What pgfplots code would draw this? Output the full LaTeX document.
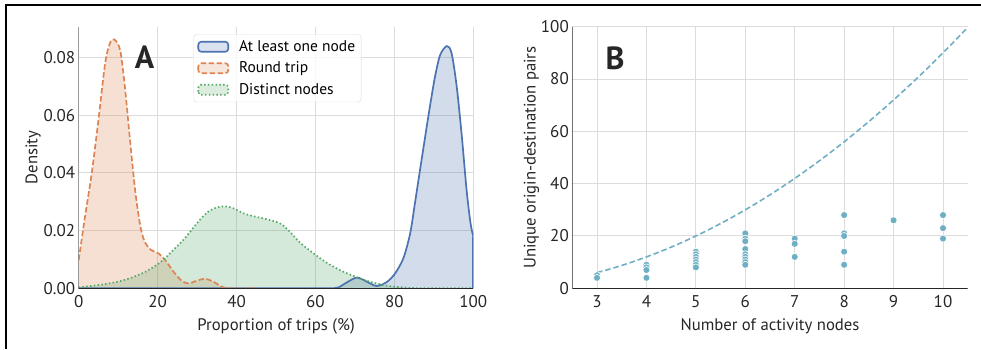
\documentclass[border=0pt]{standalone}
\usepackage{pgfplots}
\pgfplotsset{compat=1.18}
\usepackage{fontspec}
\setmainfont{PT Sans}
\definecolor{cblue}{HTML}{4C72B0}
\definecolor{corange}{HTML}{DD8452}
\definecolor{cgreen}{HTML}{55A868}
\definecolor{cteal}{HTML}{6FAFC4}
\definecolor{gridc}{HTML}{DCDCDC}
\definecolor{spinec}{HTML}{262626}
\pgfplotsset{
  common/.style={
    scale only axis, height=261.6pt,
    grid=major, grid style={gridc, line width=1pt},
    axis line style={draw=none},
    tick style={draw=none},
    ticklabel style={font=\fontsize{17}{20}\selectfont, text=spinec},
    xticklabel style={yshift=-4pt},
    label style={font=\fontsize{16.7}{20}\selectfont, text=spinec},
    xlabel style={yshift=-4pt},
    /pgf/number format/assume math mode=true,
  },
  patchlegend/.style={legend image code/.code={\draw[##1] (0pt,-5pt) rectangle (30pt,5pt);}},
}
\begin{document}
\begin{tikzpicture}[x=1pt,y=1pt]
\useasboundingbox (0,0) rectangle (981,349);
\draw[line width=2.3pt] (6.2,0) -- (6.2,344) -- (981,344);
\begin{axis}[common, at={(78.7pt,60.7pt)}, anchor=south west, width=394.6pt,
  xmin=0, xmax=100, ymin=0, ymax=0.0906,
  xtick={0,20,40,60,80,100}, ytick={0,0.02,0.04,0.06,0.08},
  scaled y ticks=false,
  yticklabel style={/pgf/number format/.cd, fixed, fixed zerofill, precision=2},
  xlabel={Proportion of trips (\%)}, ylabel={Density},
  ylabel style={yshift=-4pt},
  legend style={at={(0.2904,0.971)}, anchor=north west, draw=gridc, rounded corners=3pt,
    fill=white, fill opacity=0.8, text opacity=1, font=\fontsize{15.5}{18}\selectfont,
    inner xsep=4pt, inner ysep=4pt, row sep=5pt,
    /tikz/every odd column/.append style={column sep=8pt},
    legend cell align=left},
]
% fills
\addplot[draw=none, fill=cblue, fill opacity=0.25, smooth, forget plot] coordinates {
(0,0) (60,0) (63.7,0) (65.8,0.0003) (67.9,0.002) (70.5,0.0037) (73,0.0023) (75.5,0.0008) (78.1,0.0022) (80.2,0.0052) (82.3,0.0105) (84,0.019) (85.2,0.0294) (86.5,0.041) (87.8,0.0525) (89,0.0629) (90.3,0.0733) (91.6,0.0808) (93.3,0.0839) (94.5,0.0814) (95.8,0.0698) (97.1,0.0525) (98.3,0.034) (99.3,0.0225) (100,0.0179)} \closedcycle;
\addplot[draw=none, fill=corange, fill opacity=0.25, smooth, forget plot] coordinates {
(0,0.0098) (1.6,0.0248) (3.3,0.0398) (5,0.0583) (6.7,0.0779) (7.9,0.0848) (9,0.0862) (10.5,0.0825) (11.7,0.0698) (13,0.0514) (14.3,0.034) (15.5,0.0225) (16.6,0.0165) (18.3,0.0133) (20.2,0.0121) (21.9,0.0098) (24,0.0058) (26.1,0.0026) (27.8,0.0017) (29.9,0.0026) (32,0.0033) (34.1,0.0023) (36.2,0.0006) (38.3,0) (45,0)} \closedcycle;
\addplot[draw=none, fill=cgreen, fill opacity=0.25, smooth, forget plot] coordinates {
(0,0.0003) (5.4,0.0012) (9.6,0.0022) (13,0.0035) (16.4,0.0054) (18.9,0.0073) (21.4,0.0098) (24,0.0133) (26.5,0.0167) (28.6,0.0202) (30.7,0.0237) (32.8,0.0265) (35,0.028) (37.1,0.0284) (39.2,0.0277) (41.7,0.026) (44.2,0.025) (46.8,0.0242) (49.3,0.0233) (51.4,0.0222) (53.5,0.0196) (56.1,0.0158) (59.5,0.0121) (62.8,0.0089) (66.2,0.0063) (69.6,0.0043) (73,0.0026) (76.4,0.0014) (79.7,0.0006) (84.7,0.0001) (90,0) (100,0)} \closedcycle;
% lines
\addplot[cblue, line width=1.7pt, smooth, forget plot] coordinates {
(0,0) (60,0) (63.7,0) (65.8,0.0003) (67.9,0.002) (70.5,0.0037) (73,0.0023) (75.5,0.0008) (78.1,0.0022) (80.2,0.0052) (82.3,0.0105) (84,0.019) (85.2,0.0294) (86.5,0.041) (87.8,0.0525) (89,0.0629) (90.3,0.0733) (91.6,0.0808) (93.3,0.0839) (94.5,0.0814) (95.8,0.0698) (97.1,0.0525) (98.3,0.034) (99.3,0.0225) (100,0.0179)};
\addplot[cblue, line width=1.7pt, forget plot] coordinates {(100,0.0179) (100,0)};
\addplot[corange, line width=1.7pt, dash pattern=on 5.5pt off 2.5pt, smooth, forget plot] coordinates {
(0,0.0098) (1.6,0.0248) (3.3,0.0398) (5,0.0583) (6.7,0.0779) (7.9,0.0848) (9,0.0862) (10.5,0.0825) (11.7,0.0698) (13,0.0514) (14.3,0.034) (15.5,0.0225) (16.6,0.0165) (18.3,0.0133) (20.2,0.0121) (21.9,0.0098) (24,0.0058) (26.1,0.0026) (27.8,0.0017) (29.9,0.0026) (32,0.0033) (34.1,0.0023) (36.2,0.0006) (38.3,0) (45,0)};
\addplot[cgreen, line width=1.7pt, dash pattern=on 1.5pt off 2.3pt, smooth, forget plot] coordinates {
(0,0.0003) (5.4,0.0012) (9.6,0.0022) (13,0.0035) (16.4,0.0054) (18.9,0.0073) (21.4,0.0098) (24,0.0133) (26.5,0.0167) (28.6,0.0202) (30.7,0.0237) (32.8,0.0265) (35,0.028) (37.1,0.0284) (39.2,0.0277) (41.7,0.026) (44.2,0.025) (46.8,0.0242) (49.3,0.0233) (51.4,0.0222) (53.5,0.0196) (56.1,0.0158) (59.5,0.0121) (62.8,0.0089) (66.2,0.0063) (69.6,0.0043) (73,0.0026) (76.4,0.0014) (79.7,0.0006) (84.7,0.0001) (90,0) (100,0)};
\addlegendimage{patchlegend, draw=cblue, fill=cblue!25, line width=1.6pt}
\addlegendentry{At least one node}
\addlegendimage{patchlegend, draw=corange, fill=corange!25, line width=1.6pt, dash pattern=on 5.5pt off 2.5pt}
\addlegendentry{Round trip}
\addlegendimage{patchlegend, draw=cgreen, fill=cgreen!25, line width=1.6pt, dash pattern=on 1.5pt off 2.3pt}
\addlegendentry{Distinct nodes}
\draw[spinec, line width=1.5pt] (rel axis cs:0,1) -- (rel axis cs:0,0) -- (rel axis cs:1,0);
\end{axis}
\node[font=\fontsize{32}{32}\selectfont\bfseries, text=spinec] at (144.5,291.5) {A};
\begin{axis}[common, at={(572.3pt,60.7pt)}, anchor=south west, width=395.4pt,
  xmin=2.5, xmax=10.5, ymin=0, ymax=100,
  xtick={3,4,5,6,7,8,9,10}, ytick={0,20,40,60,80,100},
  xlabel={Number of activity nodes}, ylabel={Unique origin-destination pairs},
  ylabel style={yshift=-5pt},
]
\addplot[cteal, line width=1.6pt, dash pattern=on 5.5pt off 3pt, smooth] coordinates {
(3,6) (3.25,7.3125) (3.5,8.75) (3.75,10.3125) (4,12) (4.25,13.8125) (4.5,15.75) (4.75,17.8125) (5,20) (5.25,22.3125) (5.5,24.75) (5.75,27.3125) (6,30) (6.25,32.8125) (6.5,35.75) (6.75,38.8125) (7,42) (7.25,45.3125) (7.5,48.75) (7.75,52.3125) (8,56) (8.25,59.8125) (8.5,63.75) (8.75,67.8125) (9,72) (9.25,76.3125) (9.5,80.75) (9.75,85.3125) (10,90) (10.25,94.8125) (10.5,99.75)};
\addplot[only marks, mark=*, mark size=3.5pt, mark options={fill=cteal, draw=white, line width=0.6pt}] coordinates {
(3,5) (3,4)
(4,9) (4,8) (4,7) (4,4)
(5,14) (5,13) (5,12) (5,11) (5,10) (5,9) (5,8)
(6,21) (6,19) (6,18) (6,15) (6,13) (6,12) (6,11) (6,10) (6,9)
(7,19) (7,17) (7,12)
(8,28) (8,21) (8,20) (8,14) (8,9)
(9,26)
(10,28) (10,23) (10,19)};
\draw[spinec, line width=1.5pt] (rel axis cs:0,1) -- (rel axis cs:0,0) -- (rel axis cs:1,0);
\end{axis}
\node[font=\fontsize{32}{32}\selectfont\bfseries, text=spinec] at (615,291) {B};
\end{tikzpicture}
\end{document}
